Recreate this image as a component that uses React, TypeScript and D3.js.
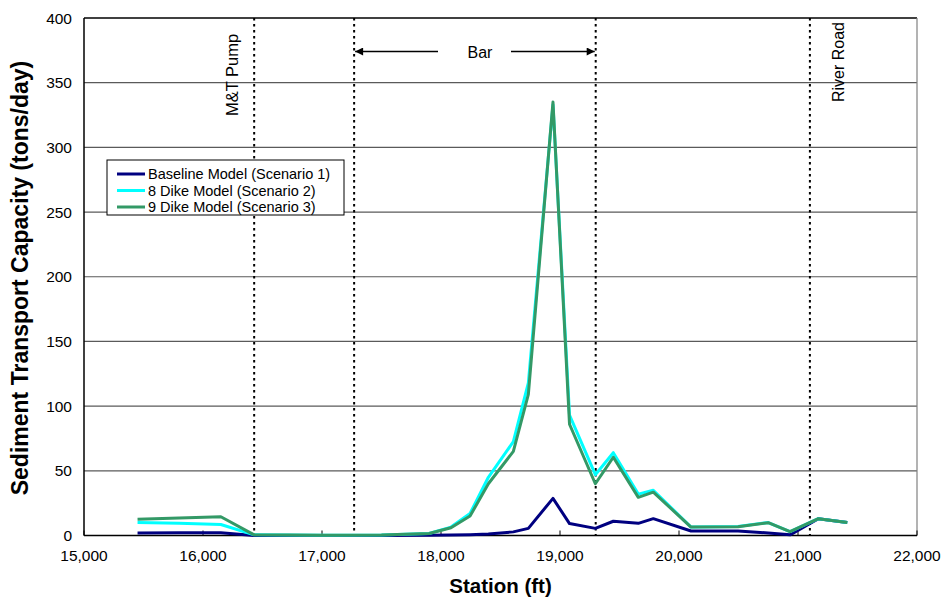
import React from "react";
import * as d3 from "d3";

const stations = [15450, 15800, 16150, 16430, 17000, 17500, 17900, 18084, 18244, 18398, 18608, 18734, 18941, 19080, 19297, 19448, 19658, 19784, 20101, 20496, 20750, 20933, 21171, 21414];
const baseline = [2, 2.2, 2.2, 0, 0, 0, 0.1, 0.3, 0.6, 1.2, 2.8, 5.5, 28.7, 9.2, 5.5, 11, 9.4, 13, 3.5, 3.5, 2, 0.5, 13, 10];
const dike8 = [10, 9.5, 8.5, 0.5, 0.2, 0.3, 1.5, 6.5, 17, 45, 72.5, 118, 333, 93, 47, 64, 32, 35, 6.5, 7, 10, 3, 13, 10];
const dike9 = [12.5, 13.5, 14.5, 0.5, 0.2, 0.3, 1.5, 6, 15, 40, 65, 109, 335, 86, 40, 60.5, 29.5, 33.5, 6.5, 6.8, 9.9, 3, 13, 10];
const seriesNames = ["Baseline Model (Scenario 1)", "8 Dike Model (Scenario 2)", "9 Dike Model (Scenario 3)"];
const seriesColors = ["#000080", "#00FFFF", "#339966"];
const xTicks = [15000, 16000, 17000, 18000, 19000, 20000, 21000, 22000];
const yTicks = [0, 50, 100, 150, 200, 250, 300, 350, 400];
const markerStations = [16430, 17270, 19300, 21100];

export default function App() {
  const W = 947, H = 608;
  const left = 84, right = 917, top = 18, bottom = 535.5;
  const x = d3.scaleLinear().domain([15000, 22000]).range([left, right]);
  const y = d3.scaleLinear().domain([0, 400]).range([bottom, top]);
  const allSeries = [baseline, dike8, dike9];
  const line = d3.line<[number, number]>().x((d) => x(d[0])).y((d) => y(d[1]));
  const font = "'Liberation Sans', Arial, sans-serif";
  const fmt = d3.format(",");

  const legX = 107, legY = 160, legW = 237, legH = 55;

  return (
    <svg width={W} height={H} style={{ position: "absolute", left: 0, top: 0, background: "#fff" }} fontFamily={font}>
      <rect x={0} y={0} width={W} height={H} fill="#fff" />
      {yTicks.filter((t) => t > 0).map((t) => (
        <line key={t} x1={left} x2={right} y1={y(t)} y2={y(t)} stroke={t === 400 ? "#000" : "#5a5a5a"} strokeWidth={t === 400 ? 1.5 : 1.2} />
      ))}
      <line x1={right} x2={right} y1={top} y2={bottom} stroke="#808080" strokeWidth={1.2} />
      {markerStations.map((m, i) => (
        <line key={i} x1={x(m)} x2={x(m)} y1={top} y2={bottom} stroke="#000" strokeWidth={2} strokeDasharray="2.5,3.5" />
      ))}
      <line x1={left} x2={left} y1={top} y2={bottom} stroke="#000" strokeWidth={1.5} />
      <line x1={left} x2={right} y1={bottom} y2={bottom} stroke="#000" strokeWidth={1.5} />
      {xTicks.map((t) => (
        <g key={t}>
          <line x1={x(t)} x2={x(t)} y1={bottom} y2={bottom - 5} stroke="#000" strokeWidth={1} />
          <text x={x(t)} y={561} textAnchor="middle" fontSize={15.5} fill="#000">{fmt(t)}</text>
        </g>
      ))}
      {yTicks.map((t) => (
        <text key={t} x={72} y={y(t) + 5.5} textAnchor="end" fontSize={15.5} fill="#000">{t}</text>
      ))}
      {allSeries.map((s, i) => (
        <path key={i} d={line(stations.map((st, j) => [st, s[j]] as [number, number])) || ""} fill="none" stroke={seriesColors[i]} strokeWidth={3} strokeLinejoin="round" />
      ))}
      <rect x={legX} y={legY} width={legW} height={legH} fill="#fff" stroke="#000" strokeWidth={1} />
      {seriesNames.map((n, i) => (
        <g key={n}>
          <line x1={legX + 10} x2={legX + 38} y1={legY + 14 + i * 16.5} y2={legY + 14 + i * 16.5} stroke={seriesColors[i]} strokeWidth={3} />
          <text x={legX + 41} y={legY + 19 + i * 16.5} fontSize={14.5} fill="#000">{n}</text>
        </g>
      ))}
      <text transform={`translate(${x(16430) - 16},75) rotate(-90)`} textAnchor="middle" fontSize={16.5} fill="#000">M&amp;T Pump</text>
      <text transform={`translate(${x(21100) + 34},62) rotate(-90)`} textAnchor="middle" fontSize={16} fill="#000">River Road</text>
      <defs>
        <marker id="ah" viewBox="0 0 10 10" refX={10} refY={5} markerWidth={9} markerHeight={8} orient="auto-start-reverse" markerUnits="userSpaceOnUse">
          <path d="M0,0 L10,5 L0,10 z" fill="#000" />
        </marker>
      </defs>
      <line x1={x(17270) + 1} x2={438} y1={51.5} y2={51.5} stroke="#000" strokeWidth={1.3} markerStart="url(#ah)" />
      <line x1={511} x2={x(19300) - 1} y1={51.5} y2={51.5} stroke="#000" strokeWidth={1.3} markerEnd="url(#ah)" />
      <text x={480} y={57.5} textAnchor="middle" fontSize={16} fill="#000">Bar</text>
      <text x={(left + right) / 2} y={593} textAnchor="middle" fontSize={20.5} fontWeight="bold" fill="#000">Station (ft)</text>
      <text transform={`translate(28,278) rotate(-90)`} textAnchor="middle" fontSize={23} fontWeight="bold" fill="#000">Sediment Transport Capacity (tons/day)</text>
    </svg>
  );
}
